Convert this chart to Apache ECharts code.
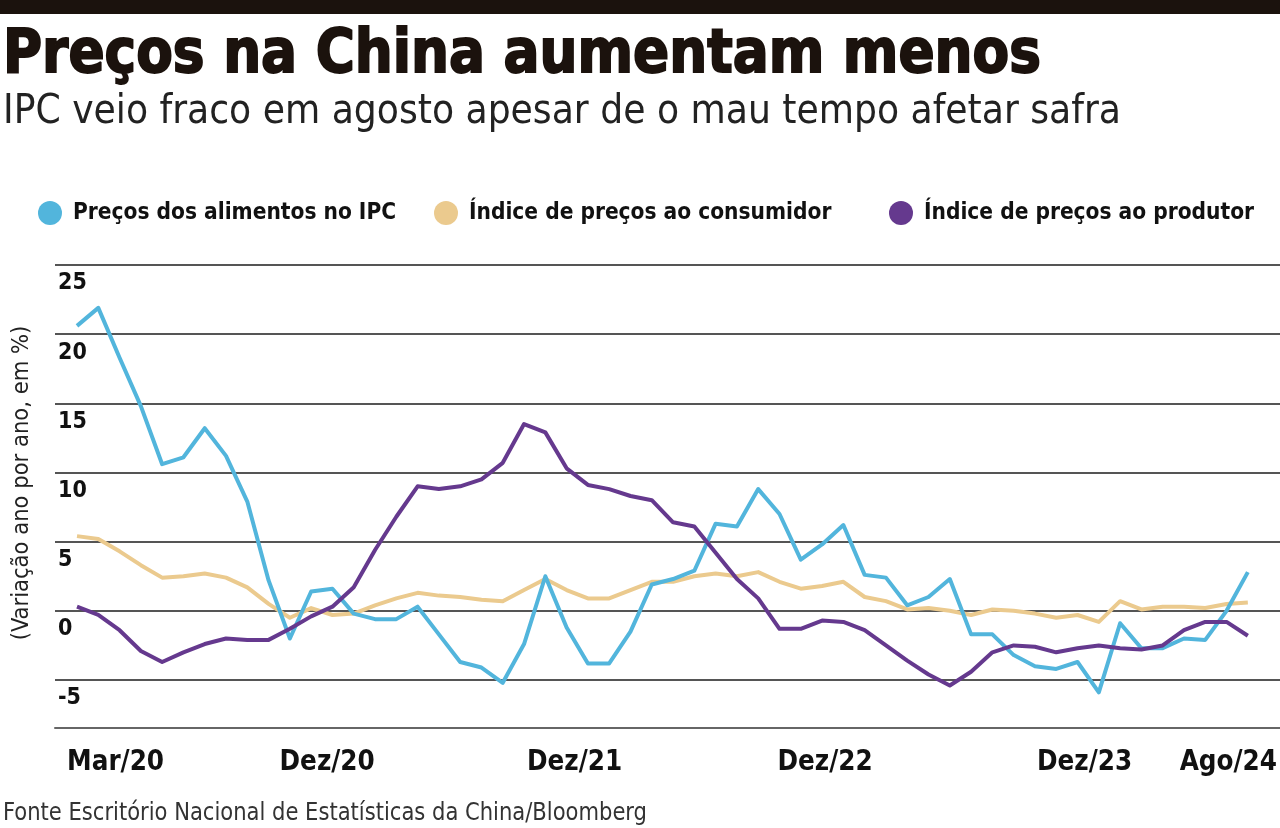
<!DOCTYPE html>
<html>
<head>
<meta charset="utf-8">
<script src="https://cdn.jsdelivr.net/npm/echarts@6/dist/echarts.min.js"></script>
<style>
html,body{margin:0;padding:0;background:#fff;}
#c{width:1280px;height:828px;}
</style>
</head>
<body>
<div id="c"></div>
<script>
// ---- data ----
const months = [
  'Jan/20','Fev/20','Mar/20','Abr/20','Mai/20','Jun/20','Jul/20','Ago/20','Set/20','Out/20','Nov/20','Dez/20',
  'Jan/21','Fev/21','Mar/21','Abr/21','Mai/21','Jun/21','Jul/21','Ago/21','Set/21','Out/21','Nov/21','Dez/21',
  'Jan/22','Fev/22','Mar/22','Abr/22','Mai/22','Jun/22','Jul/22','Ago/22','Set/22','Out/22','Nov/22','Dez/22',
  'Jan/23','Fev/23','Mar/23','Abr/23','Mai/23','Jun/23','Jul/23','Ago/23','Set/23','Out/23','Nov/23','Dez/23',
  'Jan/24','Fev/24','Mar/24','Abr/24','Mai/24','Jun/24','Jul/24','Ago/24'
];
const shownLabels = ['Mar/20','Dez/20','Dez/21','Dez/22','Dez/23','Ago/24'];
const yTicks = [-5, 0, 5, 10, 15, 20, 25];

const foodCPI = [20.6,21.9,18.3,14.8,10.6,11.1,13.2,11.2,7.9,2.2,-2.0,1.4,
  1.6,-0.2,-0.6,-0.6,0.3,-1.7,-3.7,-4.1,-5.2,-2.4,2.5,-1.2,
  -3.8,-3.8,-1.5,1.9,2.3,2.9,6.3,6.1,8.8,7.0,3.7,4.8,
  6.2,2.6,2.4,0.4,1.0,2.3,-1.7,-1.7,-3.2,-4.0,-4.2,-3.7,
  -5.9,-0.9,-2.7,-2.7,-2.0,-2.1,0.0,2.8];
const cpi = [5.4,5.2,4.3,3.3,2.4,2.5,2.7,2.4,1.7,0.5,-0.5,0.2,
  -0.3,-0.2,0.4,0.9,1.3,1.1,1.0,0.8,0.7,1.5,2.3,1.5,
  0.9,0.9,1.5,2.1,2.1,2.5,2.7,2.5,2.8,2.1,1.6,1.8,
  2.1,1.0,0.7,0.1,0.2,0.0,-0.3,0.1,0.0,-0.2,-0.5,-0.3,
  -0.8,0.7,0.1,0.3,0.3,0.2,0.5,0.6];
const ppi = [0.3,-0.3,-1.4,-2.9,-3.7,-3.0,-2.4,-2.0,-2.1,-2.1,-1.3,-0.4,
  0.3,1.7,4.4,6.8,9.0,8.8,9.0,9.5,10.7,13.5,12.9,10.3,
  9.1,8.8,8.3,8.0,6.4,6.1,4.2,2.3,0.9,-1.3,-1.3,-0.7,
  -0.8,-1.4,-2.5,-3.6,-4.6,-5.4,-4.4,-3.0,-2.5,-2.6,-3.0,-2.7,
  -2.5,-2.7,-2.8,-2.5,-1.4,-0.8,-0.8,-1.8];

const seriesNames = ['Preços dos alimentos no IPC','Índice de preços ao consumidor','Índice de preços ao produtor'];
const colors = ['#52b5dc','#ebca8e','#65398e'];

// ---- helpers ----
const NARROW = '"Liberation Sans Narrow", "DejaVu Sans Condensed", sans-serif';
const mctx = document.createElement('canvas').getContext('2d');
function fitScale(text, font, width){ mctx.font = font; return width / mctx.measureText(text).width; }

const titleText = 'Preços na China aumentam menos';
const titleFont = 'bold 60px ' + NARROW;
const subText = 'IPC veio fraco em agosto apesar de o mau tempo afetar safra';
const subFont = '40px ' + NARROW;
const srcText = 'Fonte Escritório Nacional de Estatísticas da China/Bloomberg';
const srcFont = '25px ' + NARROW;

// per-label horizontal nudges (style only)
const labelStyleKey = { 'Mar/20': 'a', 'Dez/20': 'b', 'Dez/21': 'c', 'Dez/22': 'd', 'Dez/23': 'e', 'Ago/24': 'f' };
const labBase = { fontFamily: NARROW, fontWeight: 'bold', fontSize: 27.5, color: '#111' };
const rich = {
  a: Object.assign({ padding: [0, 8, 0, 0] }, labBase),
  b: Object.assign({ padding: [0, 0, 0, 32] }, labBase),
  c: Object.assign({ padding: [0, 0, 0, 16] }, labBase),
  d: Object.assign({ padding: [0, 0, 0, 6] }, labBase),
  e: Object.assign({ padding: [0, 0, 0, 14] }, labBase),
  f: Object.assign({ padding: [0, 39, 0, 0] }, labBase)
};

const chart = echarts.init(document.getElementById('c'));
const option = {
  backgroundColor: '#fff',
  animation: false,
  graphic: [
    { type: 'rect', shape: { x: 0, y: 0, width: 1280, height: 14 }, style: { fill: '#1b120d' } },
    { type: 'text', x: 3, y: 26, scaleX: fitScale(titleText, titleFont, 1038),
      style: { text: titleText, font: titleFont, fill: '#1b120d', stroke: '#1b120d', lineWidth: 1.8, align: 'left', verticalAlign: 'top' } },
    { type: 'text', x: 3, y: 93, scaleX: fitScale(subText, subFont, 1118),
      style: { text: subText, font: subFont, fill: '#222', align: 'left', verticalAlign: 'top' } },
    { type: 'text', x: 22, y: 483, rotation: Math.PI / 2,
      style: { text: '(Variação ano por ano, em %)', font: '23.5px ' + NARROW, fill: '#222', align: 'center', verticalAlign: 'middle' } },
    { type: 'text', x: 3, y: 801, scaleX: fitScale(srcText, srcFont, 644),
      style: { text: srcText, font: srcFont, fill: '#333', align: 'left', verticalAlign: 'top' } }
  ],
  legend: seriesNames.map((n, i) => ({
    data: [n], top: 196, left: [33, 429, 884][i], icon: 'circle', itemWidth: 24, itemHeight: 24,
    textStyle: { fontFamily: NARROW, fontWeight: 'bold', fontSize: 22.5, color: '#111', padding: [0, 0, 0, 6] },
    selectedMode: false
  })),
  grid: [
    { left: 55, right: 0, top: 265, height: 415 },
    { left: 77, right: 28, top: 265, height: 415 }
  ],
  xAxis: [
    { gridIndex: 0, type: 'value', min: 0, max: 1, offset: 48,
      axisLine: { show: true, onZero: false, lineStyle: { color: '#666', width: 2 } },
      axisTick: { show: false }, axisLabel: { show: false }, splitLine: { show: false } },
    { gridIndex: 1, type: 'category', data: months, boundaryGap: false,
      axisLine: { show: false }, axisTick: { show: false }, splitLine: { show: false },
      axisLabel: {
        interval: (idx, val) => shownLabels.includes(val),
        margin: 69, fontFamily: NARROW, fontWeight: 'bold', fontSize: 27.5, color: '#111',
        formatter: (val) => labelStyleKey[val] ? '{' + labelStyleKey[val] + '|' + val + '}' : val,
        rich: rich
      } }
  ],
  yAxis: [
    { gridIndex: 0, type: 'value', min: -5, max: 25, interval: 5,
      axisLine: { show: false }, axisTick: { show: false },
      splitLine: { show: true, lineStyle: { color: '#555', width: 2 } },
      axisLabel: { inside: true, margin: 3, verticalAlign: 'top', padding: [7, 0, 0, 0],
        fontFamily: NARROW, fontWeight: 'bold', fontSize: 23, color: '#111',
        formatter: (v) => yTicks.includes(v) ? String(v) : '' } },
    { gridIndex: 1, type: 'value', min: -5, max: 25, interval: 5, show: false, splitLine: { show: false } }
  ],
  series: [foodCPI, cpi, ppi].map((d, i) => ({
    name: seriesNames[i], type: 'line', xAxisIndex: 1, yAxisIndex: 1, data: d,
    clip: false, symbol: 'none', z: [3, 2, 4][i],
    lineStyle: { color: colors[i], width: 4, join: 'round' }, itemStyle: { color: colors[i] }
  }))
};
chart.setOption(option);
</script>
</body>
</html>
